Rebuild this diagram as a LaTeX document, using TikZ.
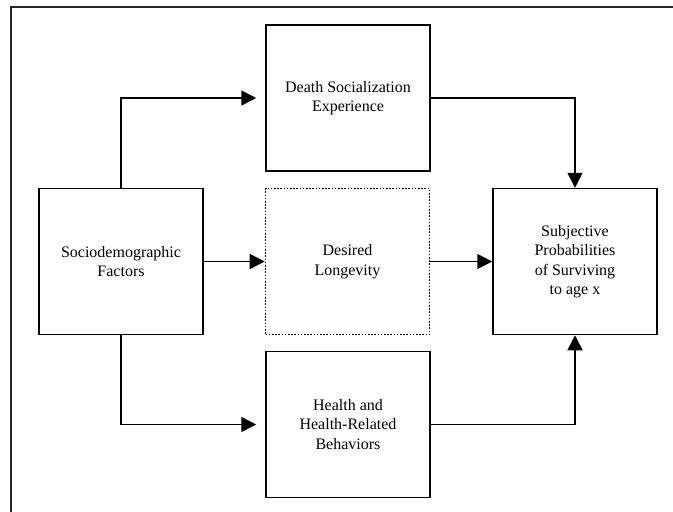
\documentclass[tikz,border=0pt]{standalone}
\usepackage{fontspec}
\setmainfont{Liberation Serif}
\usetikzlibrary{arrows.meta}
\begin{document}
\begin{tikzpicture}[x=1pt,y=-1pt,
  boxstyle/.style={draw, line width=1.5pt, minimum width=164pt, minimum height=146pt, align=center, inner sep=0pt, font=\fontsize{16}{19.5}\selectfont},
  dotbox/.style={boxstyle, draw, line width=1.6pt, dash pattern=on 1.6pt off 1.6pt},
  conn/.style={line width=1.5pt, -{Triangle[length=15pt,width=15pt]}}]
\useasboundingbox (0,0) rectangle (673,512);
\begin{scope}
\clip (0,0) rectangle (673,512);
\draw[line width=1.5pt, black!85] (11,600) -- (11,7) -- (700,7);
\end{scope}
\node[boxstyle] (death) at (348,98) {Death Socialization\\Experience};
\node[dotbox] (desired) at (347.5,261.5) {Desired\\Longevity};
\node[boxstyle] (socio) at (121,261.5) {Sociodemographic\\Factors};
\node[boxstyle] (subj) at (575,261.5) {Subjective\\Probabilities\\of Surviving\\to age x};
\node[boxstyle] (health) at (348,424.5) {Health and\\Health-Related\\Behaviors};
\draw[conn, shorten >=9pt] (socio.north) |- (death.west);
\draw[conn, shorten >=9pt] (socio.south) |- (health.west);
\draw[conn] (socio.east) -- (desired.west);
\draw[conn] (desired.east) -- (subj.west);
\draw[conn] (death.east) -| (subj.north);
\draw[conn] (health.east) -| (subj.south);
\end{tikzpicture}
\end{document}
